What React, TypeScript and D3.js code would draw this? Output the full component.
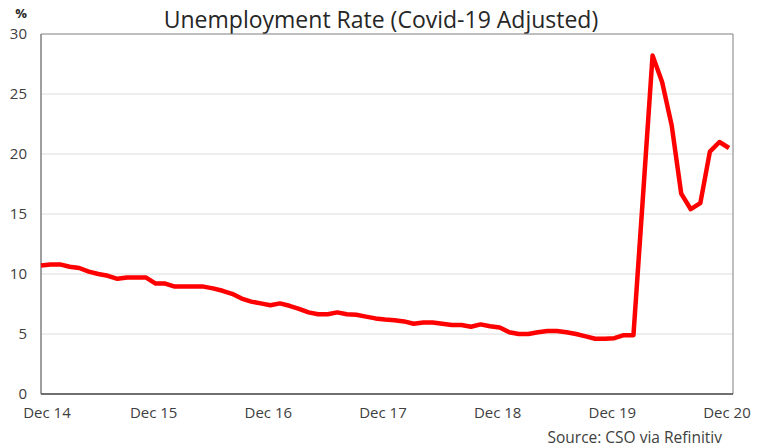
import { useMemo } from 'react'
import { line, scaleLinear } from 'd3'

// monthly rate, Dec 2014 .. Dec 2020
const rates = [
  10.7, 10.8, 10.8, 10.6, 10.5, 10.2, 10.0, 9.85, 9.6, 9.7, 9.7, 9.7,
  9.2, 9.2, 8.95, 8.95, 8.95, 8.95, 8.8, 8.6, 8.35, 7.95, 7.7, 7.55,
  7.4, 7.55, 7.35, 7.1, 6.8, 6.65, 6.65, 6.8, 6.65, 6.6, 6.45, 6.3,
  6.2, 6.15, 6.05, 5.85, 5.95, 5.95, 5.85, 5.75, 5.75, 5.6, 5.8, 5.65,
  5.55, 5.15, 5.0, 5.0, 5.15, 5.25, 5.25, 5.15, 5.0, 4.8, 4.6, 4.6,
  4.65, 4.9, 4.9, 16.5, 28.2, 26.0, 22.4, 16.7, 15.4, 15.9, 20.2, 21.0,
  20.5,
]
const xTickLabels = ['Dec 14', 'Dec 15', 'Dec 16', 'Dec 17', 'Dec 18', 'Dec 19', 'Dec 20']
const yTicks = [0, 5, 10, 15, 20, 25, 30]

const width = 759
const height = 448
const margin = { top: 34, right: 26, bottom: 54, left: 41 }
const font = "'Open Sans', 'Lato', sans-serif"

export default function App() {
  const x = useMemo(
    () => scaleLinear().domain([0, rates.length - 1]).range([margin.left, width - margin.right - 4]),
    []
  )
  const y = useMemo(
    () => scaleLinear().domain([0, 30]).range([height - margin.bottom, margin.top]),
    []
  )
  const path = line<number>()
    .x((_, i) => x(i))
    .y(d => y(d))(rates)

  const left = margin.left
  const right = width - margin.right
  const top = margin.top
  const bottom = height - margin.bottom

  return (
    <svg
      width={width}
      height={height}
      style={{ position: 'absolute', left: 0, top: 0, background: '#fff' }}
    >
      <text x={381} y={28} textAnchor="middle" fontFamily={font} fontSize={23} fill="#262626">
        Unemployment Rate (Covid-19 Adjusted)
      </text>
      <text x={21} y={18} textAnchor="middle" fontFamily={font} fontSize={13} fontWeight={700} fill="#262626">
        %
      </text>

      {yTicks.filter(t => t > 0 && t < 30).map(t => (
        <line key={t} x1={left} x2={right} y1={y(t)} y2={y(t)} stroke="#dcdcdc" strokeWidth={1} />
      ))}

      <line x1={left} x2={right} y1={top} y2={top} stroke="#7f7f7f" strokeWidth={1} />
      <line x1={right} x2={right} y1={top} y2={bottom} stroke="#7f7f7f" strokeWidth={1} />
      <line x1={left} x2={left} y1={top} y2={bottom} stroke="#7f7f7f" strokeWidth={1.5} />
      <line x1={left} x2={right} y1={bottom} y2={bottom} stroke="#404040" strokeWidth={1.5} />

      {yTicks.map(t => (
        <text
          key={t}
          x={27}
          y={y(t)}
          dy="0.35em"
          textAnchor="end"
          fontFamily={font}
          fontSize={15}
          fill="#404040"
        >
          {t}
        </text>
      ))}

      {xTickLabels.map((label, k) => (
        <text
          key={label}
          x={k === 0 ? x(0) + 6 : x(k * 12) - 2}
          y={418}
          textAnchor="middle"
          fontFamily={font}
          fontSize={15}
          fill="#404040"
        >
          {label}
        </text>
      ))}

      {path && (
        <path d={path} fill="none" stroke="#ff0000" strokeWidth={4.5} strokeLinejoin="round" />
      )}

      <text x={722} y={443} textAnchor="end" fontFamily={font} fontSize={15.5} fill="#404040">
        Source: CSO via Refinitiv
      </text>
    </svg>
  )
}
